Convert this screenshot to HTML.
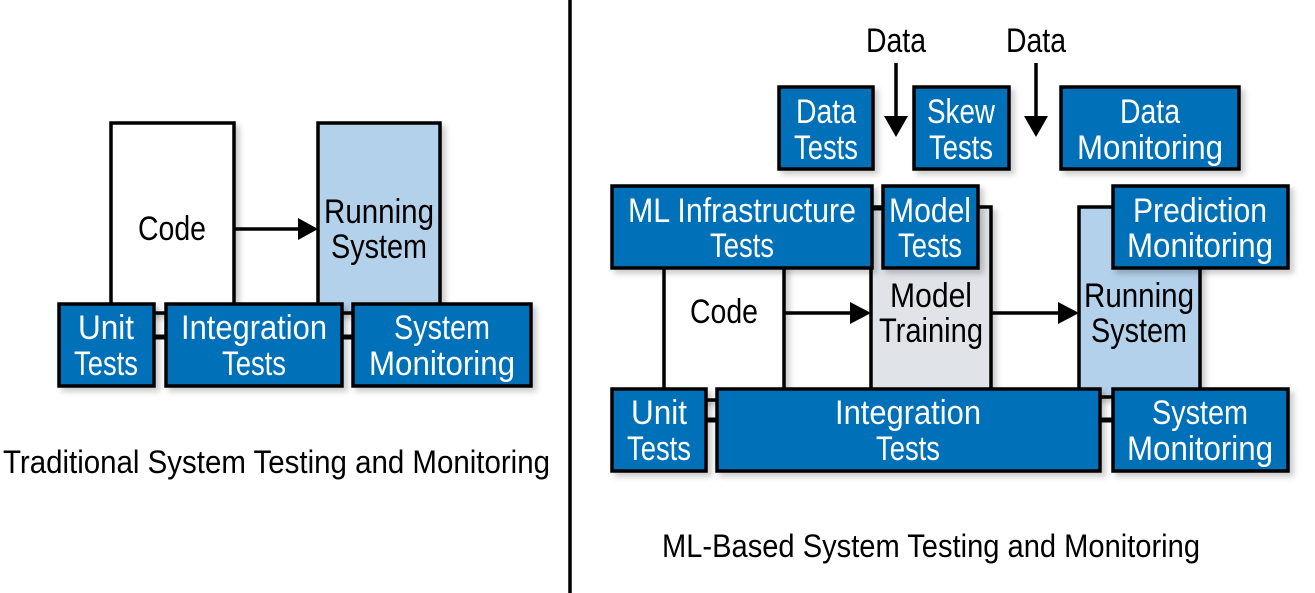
<!DOCTYPE html>
<html><head><meta charset="utf-8"><style>
html,body{margin:0;padding:0;background:#fff;}
svg{display:block;}
.b{fill:#0070b8;stroke:#000;stroke-width:3.5;}
.w{fill:#fff;font-family:"Liberation Sans Narrow","Liberation Sans",sans-serif;font-size:34px;text-anchor:middle;}
.k{fill:#000;font-family:"Liberation Sans Narrow","Liberation Sans",sans-serif;font-size:34px;text-anchor:middle;}
.c{fill:#000;font-family:"Liberation Sans Narrow","Liberation Sans",sans-serif;font-size:32px;}
.ln{stroke:#000;stroke-width:5;fill:none;}
</style></head><body>
<svg width="1315" height="593" viewBox="0 0 1315 593" xmlns="http://www.w3.org/2000/svg">
<defs>
<filter id="sh" x="-10%" y="-10%" width="130%" height="130%"><feDropShadow dx="4" dy="4" stdDeviation="3" flood-color="#000" flood-opacity="0.2"/></filter>
</defs>

<!-- LEFT -->
<rect x="111" y="123" width="123" height="190" fill="#fff" stroke="#000" stroke-width="3.5" filter="url(#sh)"/>
<rect x="318" y="123" width="122" height="190" fill="#b3d1ea" stroke="#000" stroke-width="3.5" filter="url(#sh)"/>
<text class="k" x="172" y="240" textLength="68" lengthAdjust="spacingAndGlyphs">Code</text>
<text class="k" x="379" y="223" textLength="110" lengthAdjust="spacingAndGlyphs">Running</text>
<text class="k" x="379" y="258" textLength="96" lengthAdjust="spacingAndGlyphs">System</text>
<line x1="234" y1="229" x2="300" y2="229" stroke="#000" stroke-width="3.5"/>
<path d="M298,218 L318,229 L298,240 z" fill="#000"/>
<line class="ln" x1="150" y1="337" x2="360" y2="337"/>
<rect class="b" x="59" y="304" width="95" height="82" filter="url(#sh)"/>
<rect class="b" x="166" y="304" width="176" height="82" filter="url(#sh)"/>
<rect class="b" x="353" y="304" width="178" height="82" filter="url(#sh)"/>
<text class="w" x="106" y="339" textLength="56" lengthAdjust="spacingAndGlyphs">Unit</text>
<text class="w" x="106" y="375" textLength="64" lengthAdjust="spacingAndGlyphs">Tests</text>
<text class="w" x="254" y="339" textLength="146" lengthAdjust="spacingAndGlyphs">Integration</text>
<text class="w" x="254" y="375" textLength="64" lengthAdjust="spacingAndGlyphs">Tests</text>
<text class="w" x="442" y="339" textLength="96" lengthAdjust="spacingAndGlyphs">System</text>
<text class="w" x="442" y="375" textLength="146" lengthAdjust="spacingAndGlyphs">Monitoring</text>
<text class="c" x="3" y="473" textLength="547" lengthAdjust="spacingAndGlyphs">Traditional System Testing and Monitoring</text>

<line x1="570" y1="0" x2="570" y2="593" stroke="#000" stroke-width="3.5"/>

<!-- RIGHT -->
<text class="k" x="896" y="52" textLength="60" lengthAdjust="spacingAndGlyphs">Data</text>
<text class="k" x="1036" y="52" textLength="60" lengthAdjust="spacingAndGlyphs">Data</text>
<line x1="896" y1="63" x2="896" y2="118" stroke="#000" stroke-width="3.5"/>
<path d="M884,116 L896,137 L908,116 z" fill="#000"/>
<line x1="1036" y1="63" x2="1036" y2="118" stroke="#000" stroke-width="3.5"/>
<path d="M1024,116 L1036,137 L1048,116 z" fill="#000"/>

<rect class="b" x="779" y="87" width="94" height="82" filter="url(#sh)"/>
<rect class="b" x="914" y="87" width="95" height="82" filter="url(#sh)"/>
<rect class="b" x="1061" y="87" width="178" height="82" filter="url(#sh)"/>
<text class="w" x="826" y="123" textLength="60" lengthAdjust="spacingAndGlyphs">Data</text>
<text class="w" x="826" y="159" textLength="64" lengthAdjust="spacingAndGlyphs">Tests</text>
<text class="w" x="961" y="123" textLength="68" lengthAdjust="spacingAndGlyphs">Skew</text>
<text class="w" x="961" y="159" textLength="64" lengthAdjust="spacingAndGlyphs">Tests</text>
<text class="w" x="1150" y="123" textLength="60" lengthAdjust="spacingAndGlyphs">Data</text>
<text class="w" x="1150" y="159" textLength="146" lengthAdjust="spacingAndGlyphs">Monitoring</text>

<rect x="664" y="240" width="120" height="160" fill="#fff" stroke="#000" stroke-width="3.5" filter="url(#sh)"/>
<rect x="871" y="207" width="120" height="190" fill="#e0e4e8" stroke="#000" stroke-width="3.5" filter="url(#sh)"/>
<rect x="1079" y="207" width="121" height="190" fill="#b3d1ea" stroke="#000" stroke-width="3.5" filter="url(#sh)"/>
<text class="k" x="724" y="323" textLength="68" lengthAdjust="spacingAndGlyphs">Code</text>
<text class="k" x="931" y="307" textLength="82" lengthAdjust="spacingAndGlyphs">Model</text>
<text class="k" x="931" y="342" textLength="104" lengthAdjust="spacingAndGlyphs">Training</text>
<text class="k" x="1139" y="307" textLength="110" lengthAdjust="spacingAndGlyphs">Running</text>
<text class="k" x="1139" y="342" textLength="96" lengthAdjust="spacingAndGlyphs">System</text>
<line x1="784" y1="313" x2="852" y2="313" stroke="#000" stroke-width="3.5"/>
<path d="M850,302 L871,313 L850,324 z" fill="#000"/>
<line x1="991" y1="313" x2="1060" y2="313" stroke="#000" stroke-width="3.5"/>
<path d="M1058,302 L1079,313 L1058,324 z" fill="#000"/>

<line class="ln" x1="860" y1="208" x2="890" y2="208"/>
<rect class="b" x="612" y="186" width="260" height="82" filter="url(#sh)"/>
<rect class="b" x="883" y="186" width="95" height="82" filter="url(#sh)"/>
<rect class="b" x="1113" y="186" width="175" height="82" filter="url(#sh)"/>
<text class="w" x="742" y="222" textLength="228" lengthAdjust="spacingAndGlyphs">ML Infrastructure</text>
<text class="w" x="742" y="257" textLength="64" lengthAdjust="spacingAndGlyphs">Tests</text>
<text class="w" x="930" y="222" textLength="82" lengthAdjust="spacingAndGlyphs">Model</text>
<text class="w" x="930" y="257" textLength="64" lengthAdjust="spacingAndGlyphs">Tests</text>
<text class="w" x="1200" y="222" textLength="134" lengthAdjust="spacingAndGlyphs">Prediction</text>
<text class="w" x="1200" y="257" textLength="146" lengthAdjust="spacingAndGlyphs">Monitoring</text>

<line class="ln" x1="700" y1="420" x2="1120" y2="420"/>
<rect class="b" x="612" y="389" width="94" height="82" filter="url(#sh)"/>
<rect class="b" x="717" y="389" width="383" height="82" filter="url(#sh)"/>
<rect class="b" x="1113" y="389" width="175" height="82" filter="url(#sh)"/>
<text class="w" x="659" y="424" textLength="56" lengthAdjust="spacingAndGlyphs">Unit</text>
<text class="w" x="659" y="460" textLength="64" lengthAdjust="spacingAndGlyphs">Tests</text>
<text class="w" x="908" y="424" textLength="146" lengthAdjust="spacingAndGlyphs">Integration</text>
<text class="w" x="908" y="460" textLength="64" lengthAdjust="spacingAndGlyphs">Tests</text>
<text class="w" x="1200" y="424" textLength="96" lengthAdjust="spacingAndGlyphs">System</text>
<text class="w" x="1200" y="460" textLength="146" lengthAdjust="spacingAndGlyphs">Monitoring</text>
<text class="c" x="662" y="557" textLength="538" lengthAdjust="spacingAndGlyphs">ML-Based System Testing and Monitoring</text>
</svg>
</body></html>
